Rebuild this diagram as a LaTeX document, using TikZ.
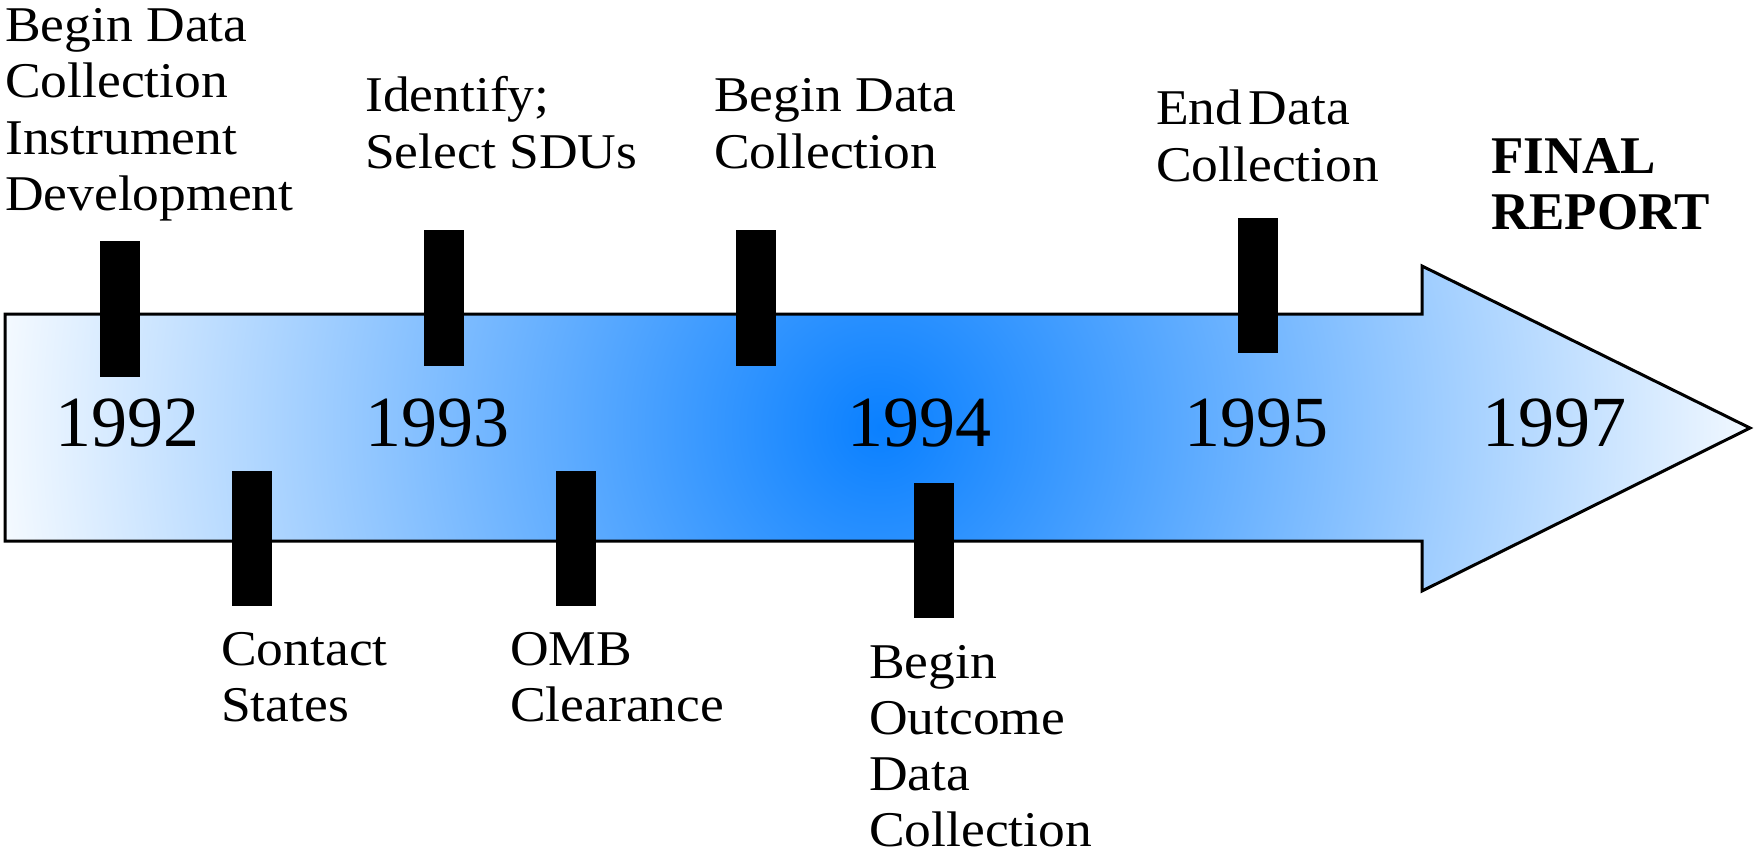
\documentclass[tikz,border=0pt]{standalone}
\usepackage{fontspec}
\setmainfont{Liberation Serif}
\usepackage{graphicx}
\definecolor{arrowin}{RGB}{10,128,255}
\definecolor{arrowout}{RGB}{245,250,255}
\newcommand{\tlrows}[1]{\vtop{\def\\{\egroup\hbox\bgroup}\hbox\bgroup#1\egroup}}
\newcommand{\tlstack}[1]{\scalebox{1.07}[1]{\tlrows{#1}}}
\begin{document}
\begin{tikzpicture}[x=1pt,y=-1pt,
  tickbar/.style={fill=black,inner sep=0pt,minimum width=40pt,minimum height=135pt},
  lbl/.style={anchor=base west,inner sep=0pt,font=\fontsize{50}{56.3}\selectfont},
  boldlbl/.style={anchor=base west,inner sep=0pt,font=\fontsize{53}{56}\selectfont\bfseries},
  year/.style={anchor=base,inner sep=0pt,font=\fontsize{72}{80}\selectfont}]
\useasboundingbox (0,0) rectangle (1754,853);
% arrow
\begin{scope}
  \clip (5,314) -- (1422,314) -- (1422,266) -- (1750,428) -- (1422,591) -- (1422,541) -- (5,541) -- cycle;
  \shade[inner color=arrowin,outer color=arrowout] (880,427) circle (885);
\end{scope}
\draw[line width=3pt,line join=miter] (5,314) -- (1422,314) -- (1422,266) -- (1750,428) -- (1422,591) -- (1422,541) -- (5,541) -- cycle;
% ticks
\node[tickbar] (t1) at (120,309) {};
\node[tickbar] (t2) at (444,298) {};
\node[tickbar] (t3) at (756,298) {};
\node[tickbar] (t4) at (1258,285.5) {};
\node[tickbar] (t5) at (251.5,538) {};
\node[tickbar] (t6) at (576,538) {};
\node[tickbar] (t7) at (934,550) {};
% years
\node[year] (y92) at (127,446) {1992};
\node[year] (y93) at (437,446) {1993};
\node[year] (y94) at (919,446) {1994};
\node[year] (y95) at (1256,446) {1995};
\node[year] (y97) at (1554,446) {1997};
% labels
\node[lbl] (l1) at (5,41.7) {\tlstack{Begin Data\\Collection\\Instrument\\Development}};
\node[lbl] (l2) at (365,112) {\tlstack{Identify;\\Select SDUs}};
\node[lbl] (l3) at (714,112) {\tlstack{Begin Data\\Collection}};
\node[lbl] (l4) at (1156,125) {\tlstack{End\kern0.12em Data\\Collection}};
\node[boldlbl] (l5) at (1491,174) {\tlrows{FINAL\\REPORT}};
\node[lbl] (l6) at (221,665) {\tlstack{Contact\\States}};
\node[lbl] (l7) at (510,665) {\tlstack{OMB\\Clearance}};
\node[lbl] (l8) at (869,678) {\tlstack{Begin\\Outcome\\Data\\Collection}};
\end{tikzpicture}
\end{document}
